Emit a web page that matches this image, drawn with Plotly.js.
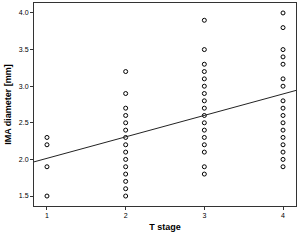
<!DOCTYPE html>
<html><head><meta charset="utf-8">
<script src="https://cdn.plot.ly/plotly-3.0.1.min.js"></script>
<style>html,body{margin:0;padding:0;background:#fff;}#chart{width:300px;height:240px;}</style>
</head><body><div id="chart"></div>
<script>
const stage1 = [2.3, 2.2, 1.9, 1.5];
const stage2 = [3.2, 2.9, 2.7, 2.6, 2.5, 2.4, 2.3, 2.2, 2.1, 2.0, 1.9, 1.8, 1.7, 1.6, 1.5];
const stage3 = [3.9, 3.5, 3.3, 3.2, 3.1, 3.0, 2.9, 2.8, 2.7, 2.6, 2.5, 2.4, 2.3, 2.2, 2.1, 1.9, 1.8];
const stage4 = [4.0, 3.8, 3.5, 3.4, 3.3, 3.1, 3.0, 2.8, 2.7, 2.6, 2.5, 2.4, 2.3, 2.2, 2.1, 2.0, 1.9];
const stages = [1, 2, 3, 4];
const tickLabels = ['1', '2', '3', '4'];
const yTickVals = [1.5, 2.0, 2.5, 3.0, 3.5, 4.0];
const fitIntercept = 1.722;
const fitSlope = 0.293;

const xRange = [0.835, 4.165];
const groups = [stage1, stage2, stage3, stage4];
const xs = [], ys = [];
groups.forEach((g, i) => g.forEach(v => { xs.push(stages[i]); ys.push(v); }));

const traces = [
  {x: xs, y: ys, type: 'scatter', mode: 'markers',
   marker: {symbol: 'circle-open', size: 4, color: '#000', line: {width: 1, color: '#000'}},
   hoverinfo: 'skip'},
  {x: xRange, y: xRange.map(x => fitIntercept + fitSlope * x), type: 'scatter', mode: 'lines',
   line: {color: '#222', width: 1}, hoverinfo: 'skip'}
];

const layout = {
  width: 300, height: 240,
  margin: {l: 34, r: 4, t: 3, b: 34},
  paper_bgcolor: '#fff', plot_bgcolor: '#fff',
  showlegend: false,
  font: {family: 'Liberation Sans, Arial, sans-serif', color: '#000'},
  xaxis: {
    range: xRange, tickvals: stages, ticktext: tickLabels,
    showgrid: false, zeroline: false,
    showline: true, mirror: true, linecolor: '#333', linewidth: 1,
    ticks: 'outside', ticklen: 3, tickcolor: '#333', tickwidth: 1,
    tickfont: {size: 7, color: '#000'},
    title: {text: 'T stage', font: {size: 9, color: '#000', family: 'Liberation Sans, Arial, sans-serif', weight: 'bold'}, standoff: 5}
  },
  yaxis: {
    range: [1.364, 4.136], tickvals: yTickVals, ticktext: yTickVals.map(v => v.toFixed(1)),
    showgrid: false, zeroline: false,
    showline: true, mirror: true, linecolor: '#333', linewidth: 1,
    ticks: 'outside', ticklen: 3, tickcolor: '#333', tickwidth: 1,
    tickfont: {size: 7, color: '#000'},
    title: {text: 'IMA diameter [mm]', font: {size: 9, color: '#000', family: 'Liberation Sans, Arial, sans-serif', weight: 'bold'}, standoff: 5}
  }
};

Plotly.newPlot('chart', traces, layout, {staticPlot: true, displayModeBar: false});
</script>
</body></html>
